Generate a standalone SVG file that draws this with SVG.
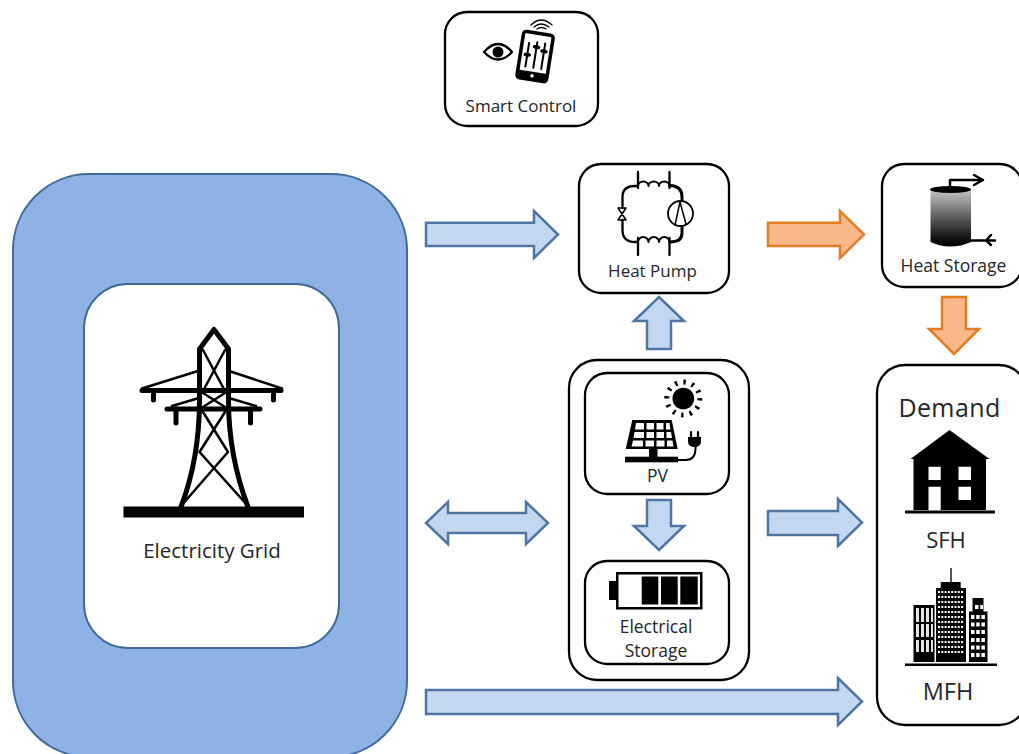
<svg xmlns="http://www.w3.org/2000/svg" width="1019" height="754" viewBox="0 0 1019 754">
<style>
text{font-family:"Open Sans","Noto Sans","Liberation Sans",sans-serif;fill:#262626;text-anchor:middle}
.b{fill:#fff;stroke:#000;stroke-width:2.300}
.ln{fill:none;stroke:#000;stroke-linecap:round;stroke-linejoin:round}
.ar{fill:#c4d7f0;stroke:#4f76a3;stroke-width:2.500}
.or{fill:#f8b88a;stroke:#e27d24;stroke-width:2.500}
</style>
<defs>
<linearGradient id="tank" x1="0" y1="0" x2="0" y2="1"><stop offset="0" stop-color="#c4c4c4"/><stop offset=".85" stop-color="#111"/><stop offset="1" stop-color="#000"/></linearGradient>
</defs>
<rect width="1019" height="754" fill="#fff"/>
<g id="grid">
<rect x="13" y="174" width="394" height="583" rx="76" fill="#8db2e3" stroke="#3f6a9a" stroke-width="2"/>
<rect x="84" y="284" width="255" height="364" rx="44" fill="#fff" stroke="#3f6a9a" stroke-width="2"/>
<rect x="123.500" y="506.500" width="180.500" height="11"/>
<path class="ln" stroke-width="5" d="M181 507C192 478 199.500 445 199.500 400V349L214 329.500L228.500 349V400C228.500 445 237 478 248 507"/>
<path class="ln" stroke-width="5" d="M142 390.500H281M167 409H260"/>
<path class="ln" stroke-width="5" stroke-linecap="butt" d="M153.500 391V400M273.500 391V400M176 409V423M250.500 409V423"/>
<path class="ln" stroke-width="2.500" d="M142 388.500L198 371M229 371L282 388.500M172 406L199 398M229 398L256 406M203 350L225 391M225 350L203 391M203 393L225 407M225 393L203 407M203 412L228 452M225 412L199.500 452M199.500 452L248 506M228 452L181 506"/>
<text x="212" y="558" font-size="20.500">Electricity Grid</text>
</g>
<g id="smart-control">
<rect class="b" x="445" y="12" width="153" height="114" rx="22"/>
<path class="ln" stroke-width="2.300" d="M484 52Q498 36 512 52Q498 67 484 52Z"/>
<circle cx="498" cy="52" r="5.500"/>
<g transform="rotate(9 535 57)">
<rect x="520" y="33" width="30" height="47" rx="3" fill="#fff" stroke="#000" stroke-width="3.500"/>
<rect x="520" y="72" width="30" height="8" rx="2"/>
<circle cx="535" cy="76" r="1.800" fill="#fff"/>
<path class="ln" stroke-width="2" d="M527 44V68M535 42V68M543 42V68"/>
<path class="ln" stroke-width="3.500" d="M525 56H529M533 47H537M541 50H545"/>
</g>
<path class="ln" stroke="#555" stroke-width="1.300" d="M531 25Q541 15 552 25M534 27Q541 21 549 27M537 29Q541 26 546 29"/>
<text x="521" y="112" font-size="17">Smart Control</text>
</g>
<g id="heat-pump">
<rect class="b" x="579" y="164" width="150" height="129" rx="22"/>
<path class="ln" stroke="#bbb" stroke-width="3" d="M670 185.500Q682 186 682 197V203M682 223V233Q682 242 670 242"/>
<path class="ln" stroke-width="2.300" d="M622.500 208V197Q622.500 186 635 186H638M622.500 220V230Q622.500 242 635 242H638M638 172V188M669.500 172V188M638 238V255M669.500 238V255"/>
<path class="ln" stroke-width="2" d="M638 186a5.200 4.500 0 0 1 10.500 0a5.200 4.500 0 0 1 10.500 0a5.200 4.500 0 0 1 10.500 0M638 242a5.200 5 0 0 1 10.500 0a5.200 5 0 0 1 10.500 0a5.200 5 0 0 1 10.500 0"/>
<path class="ln" stroke-width="1.600" d="M618 208L626 208L618 220H626Z"/>
<circle cx="680.500" cy="213.500" r="12.500" fill="#fff" stroke="#000" stroke-width="1.800"/>
<path class="ln" stroke-width="1.500" d="M675 225L680 202L686 224"/>
<text x="652.500" y="277" font-size="17">Heat Pump</text>
</g>
<g id="heat-storage">
<rect class="b" x="882" y="164" width="140" height="123" rx="22"/>
<path fill="url(#tank)" d="M930.500 190H971V242Q950.500 251 930.500 242Z"/>
<ellipse cx="950.500" cy="189.500" rx="20.500" ry="3.500"/>
<path class="ln" stroke-width="2.500" d="M950 187V180H982M974 175L983 180L974 185M971 240.500H995M991 235L986 240.500L991 245"/>
<text x="953.500" y="272" font-size="17.500">Heat Storage</text>
</g>
<g id="pv-group"><rect class="b" x="569" y="360" width="180" height="320" rx="28"/></g>
<g id="pv">
<rect class="b" x="585" y="373" width="144" height="121" rx="22"/>
<circle cx="683.300" cy="398.500" r="10.800"/>
<circle cx="683.300" cy="398.500" r="16.500" fill="none" stroke="#000" stroke-width="5" stroke-dasharray="2.400 6.240" transform="rotate(-1.300 683.300 398.500)"/>
<path d="M632.300 420H671.700L677.700 449H625.700Z"/>
<path fill="#fff" d="M636 423H644V429.500H635ZM646.500 423H654V429.500H646.500ZM656.500 423H663.500V429.500H656.500ZM666 423H669.500L670.500 429.500H666ZM634.500 432H644V438H633.500ZM646.500 432H654V438H646.500ZM656.500 432H664V438H656.500ZM666.500 432H671L672 438H666.500ZM633 440.500H643V446.500H631.500ZM645.500 440.500H654V446.500H645.500ZM656.500 440.500H664.500V446.500H656.500ZM667 440.500H672.500L673.500 446.500H667Z"/>
<rect x="649" y="449" width="8.500" height="8"/>
<rect x="625" y="456.700" width="53" height="5.600"/>
<path class="ln" stroke-width="2" d="M678 460H686Q695.500 460 695.500 448V445"/>
<path d="M688 437H701V441Q701 447 694.500 447Q688 447 688 441Z"/>
<path class="ln" stroke-width="2.200" d="M691 437V432M698 437V432"/>
<text x="657.500" y="482" font-size="17.500">PV</text>
</g>
<g id="electrical-storage">
<rect class="b" x="585" y="561" width="144" height="103" rx="22"/>
<rect x="609" y="581" width="8" height="19"/>
<rect x="616" y="572" width="86.500" height="37.500"/>
<rect x="618.500" y="574.500" width="81.500" height="32.500" fill="#fff"/>
<rect x="641.700" y="576.500" width="16.600" height="28"/>
<rect x="661" y="576.500" width="16.700" height="28"/>
<rect x="680.300" y="576.500" width="17.400" height="28"/>
<text x="656" y="633" font-size="17.500">Electrical</text>
<text x="656" y="657" font-size="17.500">Storage</text>
</g>
<g id="demand">
<rect class="b" x="877" y="365" width="150" height="360" rx="28"/>
<text x="949.500" y="417" font-size="25" letter-spacing=".4">Demand</text>
<path d="M949.500 430L989.500 459H986V510H913.500V459H910.500Z"/>
<path fill="#fff" d="M928.500 466.700H940.700V480H928.500ZM958.500 466.700H971V480H958.500ZM928.500 486.700H940.700V510H928.500ZM958.500 486.700H971V500H958.500Z"/>
<rect x="905" y="510.500" width="90" height="3"/>
<text x="946" y="547.500" font-size="22">SFH</text>
<g id="mfh-icon">
<rect x="950" y="568" width="2" height="14" fill="#555"/>
<rect x="940.700" y="582" width="20" height="6"/>
<rect x="936" y="588" width="30" height="74"/>
<path stroke="#fff" stroke-width="2" stroke-dasharray="2 1.300" d="M938 592H964M938 597H964M938 602H964M938 607H964M938 612H964M938 617H964M938 622H964M938 627H964M938 632H964M938 637H964M938 642H964M938 647H964M938 652H964"/>
<rect x="913.500" y="605" width="21" height="57"/>
<path fill="#e4e4e4" d="M916 608H919V622H916ZM921 608H924V622H921ZM926 608H929V622H926ZM931 608H933V622H931ZM916 624H919V637H916ZM921 624H924V637H921ZM926 624H929V637H926ZM931 624H933V637H931ZM916 640H919V652H916ZM921 640H924V652H921ZM926 640H929V652H926ZM931 640H933V652H931Z"/>
<rect x="969" y="611.500" width="18.500" height="50.500"/>
<rect x="972.500" y="598" width="11" height="14"/>
<path stroke="#fff" stroke-width="4" stroke-dasharray="3.500 1.700" d="M975 607H983M971 617H986M971 624.500H986M971 632H986M971 640H986M971 647.500H986M971 655H986"/>
<rect x="905" y="663.500" width="92" height="2.500"/>
</g>
<text x="948" y="700" font-size="23.500">MFH</text>
</g>
<g id="connectors">
<path class="ar" d="M426 222.700H534V211L558 234.500L534 258V246H426Z"/>
<path class="or" d="M768 222.700H840V211L864 234.500L840 258V246H768Z"/>
<path class="ar" d="M647 349V321H634L659 297L684 321H671V349Z"/>
<path class="or" d="M942 297H966V329H979L954 354L929 329H942Z"/>
<path class="ar" d="M426 523L448 502V513H526V502L548 523L526 544V533H448V544Z"/>
<path class="ar" d="M768 511H838V499L862 522.500L838 546V535H768Z"/>
<path class="ar" d="M647 500H671V526H684L659 550L634 526H647Z"/>
<path class="ar" d="M426 690H838V678L862 701.500L838 725V714H426Z"/>
</g>
</svg>
